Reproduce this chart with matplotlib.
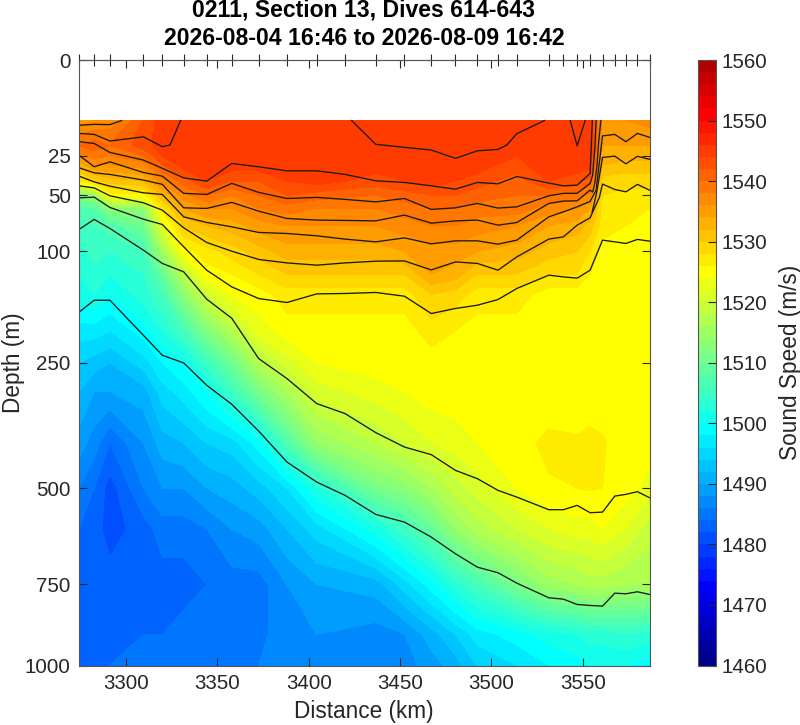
#!/usr/bin/python3
# -*- coding: utf-8 -*-
# Sound speed section with density contours

import numpy as np
from matplotlib import pyplot as plt
from matplotlib.colors import ListedColormap, BoundaryNorm
from matplotlib.cm import ScalarMappable

plt.rcParams['font.family'] = ['Liberation Sans', 'DejaVu Sans']

TITLE = '0211, Section 13, Dives 614-643\n2026-08-04 16:46 to 2026-08-09 16:42'

#Distance of each dive (km), these are the ticks along the top
dive_km = [3274.3, 3282.6, 3291.2, 3309.5, 3319.9, 3331.6, 3344.2, 3357.9, 3372.6,
           3388.1, 3404.4, 3419.9, 3436.7, 3452.4, 3467.1, 3480.3, 3492.3, 3503.6,
           3513.9, 3531.4, 3539.4, 3546.9, 3554.0, 3560.8, 3567.5, 3573.6, 3579.9,
           3586.5]

x_ticks = [3300, 3350, 3400, 3450, 3500, 3550]
y_ticks = [0, 25, 50, 100, 250, 500, 750, 1000]
cbar_ticks = list(range(1460, 1561, 10))

#Sound speed table: one list per depth row, one column per station
depth_m = [10, 15, 20, 25, 30, 40, 50, 60, 75, 100, 125, 150, 200, 250, 300, 400,
           500, 600, 750, 900, 1000]
station_km = [3274.3, 3282.6, 3291.2, 3309.5, 3319.9, 3331.6, 3344.2, 3357.9, 3372.6,
              3388.1, 3404.4, 3436.7, 3452.4, 3467.1, 3480.3, 3492.3, 3513.9, 3531.4,
              3546.9, 3554.0, 3560.8, 3573.6, 3586.5]

st_3274 = [1535, 1538, 1540, 1537, 1533, 1526, 1512, 1507, 1505, 1503, 1502, 1501, 1497, 1494, 1492, 1489, 1486, 1484, 1483, 1483, 1483]
st_3283 = [1536, 1539, 1541, 1539, 1536, 1529, 1514, 1508, 1506, 1505, 1503, 1502, 1497, 1493, 1490, 1487, 1484, 1483, 1482, 1482, 1483]
st_3291 = [1536, 1539, 1540, 1538, 1536, 1531, 1525, 1513, 1507, 1504, 1502, 1500, 1496, 1492, 1490, 1484, 1481, 1481, 1483, 1483, 1484]
st_3310 = [1542, 1543, 1543, 1540, 1537, 1532, 1525, 1513, 1510, 1506, 1504, 1503, 1499, 1495, 1491, 1488, 1486, 1483, 1483, 1484, 1485]
st_3320 = [1545, 1545, 1545, 1544, 1542, 1537, 1532, 1527, 1522, 1515, 1509, 1506, 1502, 1498, 1495, 1491, 1488, 1485, 1483, 1484, 1485]
st_3332 = [1545, 1546, 1546, 1546, 1545, 1541, 1537, 1534, 1530, 1525, 1518, 1513, 1506, 1500, 1497, 1492, 1488, 1485, 1483, 1485, 1486]
st_3344 = [1546, 1546, 1546, 1546, 1546, 1544, 1540, 1536, 1532, 1527, 1525, 1520, 1512, 1505, 1500, 1494, 1490, 1486, 1484, 1485, 1485]
st_3358 = [1546, 1546, 1546, 1546, 1545, 1542, 1538, 1536, 1533, 1529, 1526, 1524, 1517, 1510, 1505, 1495, 1491, 1488, 1485, 1485, 1485]
st_3373 = [1546, 1546, 1546, 1546, 1545, 1542, 1540, 1538, 1535, 1531, 1528, 1525, 1523, 1517, 1511, 1499, 1493, 1489, 1485, 1485, 1486]
st_3388 = [1546, 1546, 1546, 1546, 1546, 1544, 1542, 1539, 1536, 1533, 1530, 1527, 1525, 1521, 1516, 1507, 1496, 1492, 1488, 1488, 1488]
st_3404 = [1546, 1546, 1546, 1546, 1546, 1545, 1541, 1538, 1536, 1533, 1530, 1527, 1525, 1524, 1521, 1514, 1502, 1495, 1490, 1488, 1488]
st_3437 = [1546, 1546, 1546, 1546, 1545, 1543, 1540, 1538, 1536, 1533, 1530, 1527, 1525, 1525, 1523, 1518, 1511, 1501, 1491, 1487, 1487]
st_3452 = [1546, 1546, 1546, 1546, 1546, 1544, 1541, 1539, 1537, 1534, 1530, 1527, 1525, 1525, 1524, 1520, 1513, 1505, 1495, 1488, 1487]
st_3467 = [1546, 1546, 1546, 1546, 1546, 1545, 1542, 1540, 1538, 1535, 1534, 1530, 1527, 1525, 1525, 1522, 1516, 1509, 1499, 1491, 1489]
st_3480 = [1546, 1546, 1546, 1546, 1546, 1544, 1542, 1540, 1538, 1535, 1533, 1529, 1526, 1525, 1525, 1523, 1519, 1514, 1503, 1494, 1491]
st_3492 = [1546, 1546, 1546, 1546, 1545, 1543, 1541, 1539, 1537, 1534, 1530, 1527, 1525, 1525, 1525, 1524, 1521, 1517, 1506, 1497, 1494]
st_3514 = [1545, 1545, 1545, 1544, 1543, 1541, 1540, 1539, 1536, 1533, 1530, 1527, 1525, 1525, 1525, 1525.4, 1524, 1520, 1511, 1499, 1496]
st_3531 = [1546, 1546, 1546, 1546, 1546, 1544, 1540, 1537, 1534, 1531, 1528, 1525, 1525, 1525, 1525, 1526.4, 1525.8, 1522, 1515, 1501, 1498]
st_3547 = [1546, 1546, 1546, 1546, 1545, 1543, 1539, 1536, 1533, 1530, 1528, 1525, 1525, 1525, 1525, 1526.2, 1526, 1523, 1516, 1502, 1499]
st_3554 = [1546, 1546, 1546, 1546, 1545, 1541, 1537, 1534, 1531, 1528, 1526, 1525, 1525, 1525, 1525, 1526.5, 1526.2, 1523, 1517, 1503, 1500]
st_3561 = [1535, 1535, 1534, 1533, 1532, 1529, 1528, 1527, 1527, 1525, 1525, 1525, 1525, 1525, 1525, 1526.2, 1526, 1524, 1517, 1503, 1500]
st_3574 = [1536, 1535, 1534, 1533, 1531, 1529, 1527, 1527, 1526, 1525, 1525, 1525, 1525, 1525, 1525, 1525, 1525, 1522, 1516, 1504, 1500]
st_3587 = [1537, 1535, 1534, 1533, 1531, 1529, 1527, 1526, 1526, 1525, 1525, 1525, 1525, 1525, 1525, 1525, 1523, 1519, 1516, 1503, 1499]

#Black contours, depth (m) at each dive. Some leave through the top of the data.
line_a_km = [3274.3, 3282.6, 3291.2, 3297.6]
line_a = [11.6, 11.3, 11.4, 10.0]
line_b1_km = [3274.3, 3282.6, 3291.2, 3309.5, 3319.9, 3324.1, 3329.9]
line_b1 = [14.7, 15.1, 17.9, 16.1, 20.5, 19.7, 10.0]
line_b2_km = [3423.5, 3436.7, 3452.4, 3467.1, 3480.3, 3492.3, 3503.6, 3508.4, 3513.9, 3529.0]
line_b2 = [10.0, 19.4, 20.8, 22.1, 26.4, 22.5, 21.8, 19.7, 14.8, 10.0]
line_b3_km = [3543.1, 3546.9, 3551.3]
line_b3 = [10.0, 20.1, 10.0]
line_c_km = dive_km[:23] + [3554.6, 3555.2]
line_c = [18.2, 19.0, 23.3, 27.3, 32.0, 37.9, 40.0, 29.2, 31.1, 33.5, 33.5, 35.7, 39.8,
          40.9, 43.2, 45.5, 40.9, 41.8, 37.0, 41.3, 43.2, 42.7, 35.1, 21.2, 10.0]
line_d_km = dive_km[:23] + [3555.4, 3556.6, 3557.3]
line_d = [24.7, 31.1, 28.3, 34.5, 36.8, 48.5, 49.3, 41.5, 47.8, 52.3, 51.5, 53.0, 54.9,
          52.3, 60.9, 59.6, 56.1, 59.8, 58.8, 50.3, 48.5, 48.5, 41.5, 36.1, 21.2, 10.0]
line_e_km = dive_km[:23] + [3555.4, 3556.6, 3557.8, 3558.7, 3559.9]
line_e = [31.7, 34.7, 35.7, 39.3, 42.2, 59.6, 60.1, 55.3, 62.3, 68.5, 69.9, 70.2, 70.6,
          65.6, 72.6, 70.6, 69.9, 74.4, 72.0, 56.1, 54.3, 54.1, 46.2, 47.6, 41.3, 30.1,
          18.2, 10.0]
line_f_km = dive_km[:23] + [3557.3, 3558.9] + dive_km[23:]
line_f = [36.8, 40.5, 43.4, 48.1, 49.3, 67.1, 72.0, 75.9, 81.1, 82.1, 84.3, 87.5, 90.2,
          86.3, 92.2, 89.2, 89.2, 92.5, 88.5, 67.1, 62.9, 58.8, 54.6, 46.2, 30.1, 15.7,
          15.1, 18.2, 14.7, 16.3]
#branch that rises from the next contour down to the second kink on the right
line_f2_km = [3555.1, 3557.3, 3559.2] + dive_km[23:]
line_f2 = [63.1, 49.8, 36.1, 25.9, 25.2, 29.4, 25.3, 26.9]
line_g_km = dive_km[:23] + [3559.1] + dive_km[23:]
line_g = [43.2, 44.6, 50.3, 55.6, 61.5, 76.8, 90.8, 99.7, 108.5, 112.3, 114.8, 112.3,
          110.4, 110.1, 120.2, 111.2, 112.9, 120.5, 105.7, 87.5, 85.3, 74.4, 67.9, 51.3,
          42.0, 45.7, 47.4, 42.2, 46.2]
line_h = [51.8, 51.3, 59.3, 69.1, 73.8, 95.2, 120.5, 140.4, 155.2, 160.4, 149.2, 148.7,
          147.4, 152.2, 175.3, 168.4, 164.0, 156.5, 142.4, 126.3, 128.3, 129.8, 120.5,
          88.5, 90.2, 91.8, 87.8, 89.5]
line_i = [78.3, 69.3, 77.4, 98.6, 112.9, 122.4, 156.1, 181.9, 243.1, 276.8, 322.0, 341.0,
          378.7, 408.6, 424.8, 459.3, 478.1, 505.2, 521.1, 551.6, 551.6, 541.0, 559.0,
          557.5, 518.7, 514.6, 508.2, 522.5]
line_j = [173.5, 157.4, 157.4, 206.6, 237.8, 250.3, 288.6, 323.3, 375.5, 440.9, 485.9,
          517.0, 563.2, 582.4, 620.9, 664.9, 701.5, 717.1, 746.5, 788.8, 792.9, 808.6,
          811.5, 813.6, 775.3, 777.1, 771.3, 779.1]


def matlab_jet(m):
    '''Same colours as jet(m) in MATLAB, mpl's jet is placed a bit differently.'''
    n = int(np.ceil(m / 4))
    u = np.r_[np.arange(1, n + 1) / n, np.ones(n - 1), np.arange(n, 0, -1) / n]
    g0 = int(np.ceil(n / 2)) - (1 if m % 4 == 1 else 0)
    rgb = np.zeros((m, 3))
    for i, val in enumerate(u):
        g = g0 + i
        for chan, idx in ((0, g + n), (1, g), (2, g - n)):
            if 0 <= idx < m:
                rgb[idx, chan] = val
    return rgb


speed = np.array([st_3274, st_3283, st_3291, st_3310, st_3320, st_3332, st_3344,
                  st_3358, st_3373, st_3388, st_3404, st_3437, st_3452, st_3467,
                  st_3480, st_3492, st_3514, st_3531, st_3547, st_3554, st_3561,
                  st_3574, st_3587]).T

levels = np.arange(1460, 1561, 2)
cmap = ListedColormap(matlab_jet(50))
norm = BoundaryNorm(levels, cmap.N)
INK = '#262626'
W, H = 800.0, 725.0

fig = plt.figure(figsize=(8, 7.25), dpi=100)
ax = fig.add_axes([79 / W, 1 - 665.5 / H, 570.5 / W, 605.5 / H])

ax.contourf(station_km, depth_m, speed, levels=levels, cmap=cmap, norm=norm)

for km, line in ((line_a_km, line_a), (line_b1_km, line_b1), (line_b2_km, line_b2),
                 (line_b3_km, line_b3), (line_c_km, line_c), (line_d_km, line_d),
                 (line_e_km, line_e), (line_f_km, line_f), (line_f2_km, line_f2),
                 (line_g_km, line_g), (dive_km, line_h), (dive_km, line_i),
                 (dive_km, line_j)):
    ax.plot(km, line, color='#1a1a1a', lw=0.95)

#Depth axis is square root
ax.set_yscale('function', functions=(lambda d: np.sqrt(np.clip(d, 0, None)),
                                     lambda s: s**2))
ax.set_ylim(1000, 0)
ax.set_xlim(dive_km[0], dive_km[-1])
ax.set_xticks(x_ticks)
ax.set_yticks(y_ticks)
ax.set_yticklabels([str(t) for t in y_ticks])
ax.minorticks_off()
ax.tick_params(axis='both', which='major', direction='in', length=6, width=0.8,
               color=INK, labelcolor=INK, labelsize=14.8, top=True, right=True, pad=6)
ax.set_xlabel('Distance (km)', fontsize=16.3, color=INK, labelpad=5)
ax.set_ylabel('Depth (m)', fontsize=16.3, color=INK, labelpad=0)
for side in ax.spines:
    ax.spines[side].set_color('#555555')
    ax.spines[side].set_linewidth(0.8)

top = ax.secondary_xaxis('top')
top.set_xticks(dive_km)
top.set_xticklabels([])
top.tick_params(direction='inout', length=8, width=0.8, color=INK)
top.spines['top'].set_color('#555555')
top.spines['top'].set_linewidth(0.8)

fig.text(364 / W, 1 - 24 / H, TITLE, ha='center', va='center', fontsize=16.6,
         fontweight='bold', color='black', linespacing=1.28)

cax = fig.add_axes([698 / W, 1 - 665.5 / H, 18 / W, 605.5 / H])
cbar = fig.colorbar(ScalarMappable(norm=norm, cmap=cmap), cax=cax, ticks=cbar_ticks,
                    spacing='proportional', drawedges=False)
cbar.ax.minorticks_off()
cbar.ax.tick_params(direction='in', length=6, width=0.8, color=INK, labelcolor=INK,
                    labelsize=14.8, pad=4)
cbar.set_label('Sound Speed (m/s)', fontsize=16.3, color=INK, labelpad=8)
cbar.outline.set_edgecolor('#555555')
cbar.outline.set_linewidth(0.8)

fig.savefig('out.png', dpi=100)
